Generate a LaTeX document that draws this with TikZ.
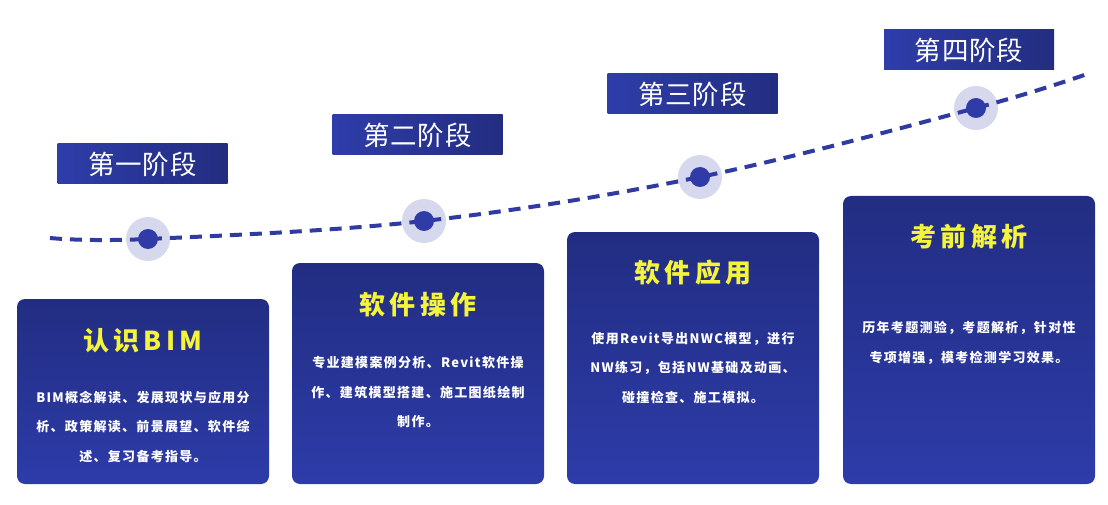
\documentclass[tikz,border=0pt]{standalone}
\usepackage{fontspec}
\newfontfamily\cjk[LetterSpace=3]{Noto Sans CJK SC}
\newfontfamily\cjkbody[LetterSpace=10]{Noto Sans CJK SC}
\newfontfamily\cjktitle[LetterSpace=16]{Noto Sans CJK SC}
\definecolor{lblL}{HTML}{2E3DAA}
\definecolor{lblR}{HTML}{232D80}
\definecolor{boxT}{HTML}{222D82}
\definecolor{boxB}{HTML}{2D3CA9}
\definecolor{linec}{HTML}{2F3BA0}
\definecolor{halo}{HTML}{D6D9EE}
\definecolor{dotc}{HTML}{2F3CA8}
\definecolor{ttl}{HTML}{F4F43A}
\tikzset{
  stagelabel/.style={minimum width=170pt,minimum height=40pt,inner sep=0pt,
    left color=lblL,right color=lblR,text=white,font=\cjk\fontsize{26.5}{30}\selectfont},
  haloc/.style={circle,fill=halo,minimum size=44pt,inner sep=0pt},
  dotn/.style={circle,fill=dotc,minimum size=20pt,inner sep=0pt},
  cardbox/.style={rounded corners=8pt,top color=boxT,bottom color=boxB,draw=none},
  cardtitle/.style={text=ttl,font=\cjktitle\bfseries\fontsize{26}{30}\selectfont,inner sep=0pt},
  cardbody/.style={text=white,align=center,font=\cjkbody\bfseries\fontsize{13}{29.5}\selectfont,inner sep=0pt},
  curve/.style={draw=linec,line width=4pt,dash pattern=on 12pt off 8pt}
}
\begin{document}
\begin{tikzpicture}[x=1pt,y=-1pt]
\useasboundingbox (0,0) rectangle (1108,505);
% halos
\node[haloc] (h1) at (148,239) {};
\node[haloc] (h2) at (424,221) {};
\node[haloc] (h3) at (700,177) {};
\node[haloc] (h4) at (976,108) {};
\coordinate (s) at (50,238);
\coordinate (e) at (1090,73);
\draw[curve] plot[smooth,tension=0.6] coordinates {(s) (h1) (h2) (h3) (h4) (e)};
\node[dotn] (d1) at (h1) {};
\node[dotn] (d2) at (h2) {};
\node[dotn] (d3) at (h3) {};
\node[dotn] (d4) at (h4) {};
% stage labels
\node[stagelabel] (l1) at (142.5,164) {第一阶段};
\node[stagelabel] (l2) at (417.5,135) {第二阶段};
\node[stagelabel] (l3) at (692.5,94) {第三阶段};
\node[stagelabel] (l4) at (969,50) {第四阶段};
% cards
\path[cardbox] (17,299) rectangle (269,484);
\path[cardbox] (292,263) rectangle (544,484);
\path[cardbox] (567,232) rectangle (819,484);
\path[cardbox] (843,196) rectangle (1095,484);
\node[cardtitle] (t1) at (143,341) {认识BIM};
\node[cardtitle] (t2) at (418,305) {软件操作};
\node[cardtitle] (t3) at (693,273) {软件应用};
\node[cardtitle] (t4) at (969,237) {考前解析};
\node[cardbody] (b1) at (143,426.5) {BIM概念解读、发展现状与应用分\\析、政策解读、前景展望、软件综\\述、复习备考指导。};
\node[cardbody] (b2) at (418,392) {专业建模案例分析、Revit软件操\\作、建筑模型搭建、施工图纸绘制\\制作。};
\node[cardbody] (b3) at (693,368) {使用Revit导出NWC模型，进行\\NW练习，包括NW基础及动画、\\碰撞检查、施工模拟。};
\node[cardbody] (b4) at (969,343) {历年考题测验，考题解析，针对性\\专项增强，模考检测学习效果。};
\end{tikzpicture}
\end{document}
